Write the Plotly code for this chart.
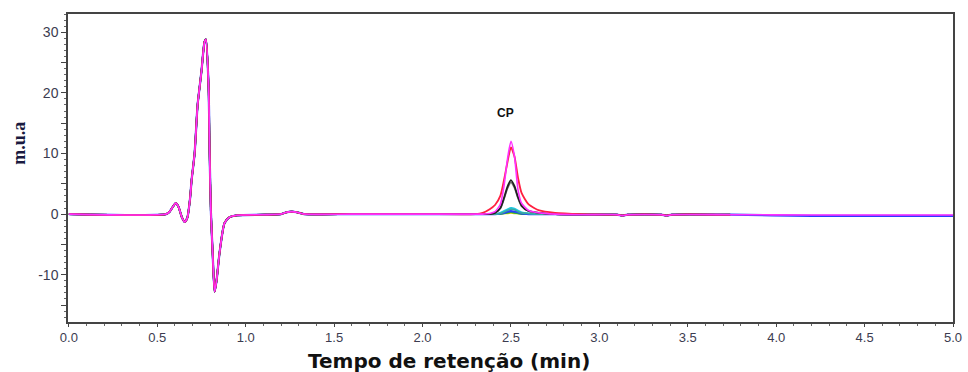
import plotly.graph_objects as go

# Shared system-peak region (all injections overlap here), time in min
base_t = [0.00, 0.55, 0.57, 0.59, 0.604, 0.62, 0.64, 0.655, 0.67, 0.685, 0.694, 0.711,
          0.728, 0.750, 0.767, 0.775, 0.790, 0.796, 0.803, 0.813, 0.824, 0.835, 0.852,
          0.880, 0.909, 0.95, 1.10, 1.20, 1.23, 1.26, 1.29, 1.33, 1.60, 2.00, 2.30]
base_v = [0.0, 0.0, 0.4, 1.3, 1.8, 1.2, -0.6, -1.3, -0.6, 2.5, 5.6, 10.0,
          18.0, 23.6, 28.4, 28.8, 21.0, 10.0, 0.5, -6.4, -12.8, -11.0, -6.4,
          -1.5, -0.5, -0.2, -0.1, 0.0, 0.3, 0.4, 0.3, 0.0, 0.0, 0.0, 0.0]

# CP peak region, one profile per injection
cp_t = [2.34, 2.38, 2.41, 2.44, 2.46, 2.48, 2.50, 2.52, 2.54, 2.56, 2.60, 2.66, 2.75, 2.90]
cp_magenta = [0.0, 0.1, 0.4, 1.6, 4.5, 9.0, 12.0, 9.5, 4.0, 1.8, 0.6, 0.2, 0.0, -0.1]
cp_red     = [0.2, 0.8, 1.5, 3.0, 5.5, 8.5, 11.0, 9.5, 6.0, 3.5, 1.6, 0.6, 0.2, 0.0]
cp_black   = [0.0, 0.0, 0.2, 1.0, 2.6, 4.5, 5.6, 4.6, 2.8, 1.4, 0.5, 0.2, 0.0, -0.1]
cp_gray    = [0.0, 0.0, 0.2, 0.9, 2.4, 4.2, 5.2, 4.3, 2.6, 1.3, 0.5, 0.2, 0.0, -0.1]
cp_cyan    = [0.0, 0.0, 0.0, 0.2, 0.5, 0.8, 1.0, 0.9, 0.6, 0.3, 0.1, 0.0, 0.0, -0.1]
cp_teal    = [0.0, 0.0, 0.0, 0.1, 0.3, 0.6, 0.8, 0.7, 0.4, 0.2, 0.1, 0.0, 0.0, -0.1]
cp_blue    = [0.0, 0.0, 0.0, 0.1, 0.2, 0.4, 0.5, 0.4, 0.3, 0.1, 0.0, 0.0, 0.0, -0.1]
cp_green   = [0.0, 0.0, 0.0, 0.0, 0.1, 0.2, 0.3, 0.2, 0.1, 0.0, 0.0, 0.0, 0.0, -0.1]
cp_yellow  = [0.0, 0.0, 0.0, 0.0, 0.1, 0.1, 0.2, 0.1, 0.1, 0.0, 0.0, 0.0, 0.0, -0.1]

# Baseline after the CP peak
tail_t = [3.10, 3.13, 3.16, 3.35, 3.38, 3.41, 3.74]
tail_v = [-0.1, -0.25, -0.1, -0.1, -0.25, -0.1, -0.1]
long_t = [4.20, 5.00]
long_magenta = [-0.15, -0.15]
long_blue = [-0.3, -0.3]

x_ticks = [0.0, 0.5, 1.0, 1.5, 2.0, 2.5, 3.0, 3.5, 4.0, 4.5, 5.0]
x_labels = ["0.0", "0.5", "1.0", "1.5", "2.0", "2.5", "3.0", "3.5", "4.0", "4.5", "5.0"]
y_ticks = [-15, -10, -5, 0, 5, 10, 15, 20, 25, 30]
y_labels = ["", "-10", "", "0", "", "10", "", "20", "", "30"]

series = [
    ("#e0d000", cp_yellow, False, 1.6),
    ("#20b040", cp_green, False, 1.6),
    ("#2a3cff", cp_blue, True, 2.2),
    ("#20c8e0", cp_cyan, False, 1.8),
    ("#3aa8a0", cp_teal, False, 1.6),
    ("#707070", cp_gray, False, 1.6),
    ("#202020", cp_black, False, 1.8),
    ("#ff2040", cp_red, False, 1.8),
    ("#ff30ff", cp_magenta, True, 1.6),
]

fig = go.Figure()
for color, cp_vals, extends, width in series:
    t = base_t + cp_t + tail_t
    v = base_v + cp_vals + tail_v
    if extends:
        t = t + long_t
        v = v + (long_blue if color == "#2a3cff" else long_magenta)
    fig.add_trace(go.Scatter(x=t, y=v, mode="lines",
                             line=dict(color=color, width=width, shape="spline", smoothing=0.6),
                             showlegend=False, hoverinfo="skip"))

fig.add_annotation(x=2.47, y=16.6, text="<b>CP</b>", showarrow=False,
                   font=dict(family="Liberation Sans, Arial", size=12, color="#111111"))
fig.add_annotation(xref="paper", yref="paper", x=-0.055, y=0.58, xanchor="center",
                   text="<b>m.u.a</b>", textangle=-90, showarrow=False,
                   font=dict(family="Liberation Serif, Times New Roman", size=18, color="#1a1a40"))
fig.add_annotation(xref="paper", yref="paper", x=0.43, y=-0.128, yanchor="middle",
                   text="<b>Tempo de retenção (min)</b>", showarrow=False,
                   font=dict(family="DejaVu Sans, Verdana", size=20, color="#111111"))

tick_font = dict(family="Liberation Sans, Arial", size=13, color="#3c3c50")
fig.update_xaxes(range=[-0.005, 5.0], tickvals=x_ticks, ticktext=x_labels,
                 ticks="outside", ticklen=3, tickcolor="#444", tickfont=tick_font,
                 minor=dict(dtick=0.1, ticks="outside", ticklen=2, tickcolor="#666"),
                 showgrid=False, zeroline=False, showline=True, linecolor="#444",
                 linewidth=1.5, mirror=True, automargin=False)
fig.update_yaxes(range=[-17.8, 33.0], tickvals=y_ticks, ticktext=y_labels,
                 ticks="outside", ticklen=5, tickcolor="#444", tickfont=dict(tick_font, size=14),
                 minor=dict(dtick=1, ticks="outside", ticklen=2, tickcolor="#666"),
                 showgrid=False, zeroline=False, showline=True, linecolor="#444",
                 linewidth=1.5, mirror=True, automargin=False)
fig.update_layout(width=968, height=372, margin=dict(l=68, r=15, t=14, b=50),
                  paper_bgcolor="white", plot_bgcolor="white")
fig.write_html("out.html")
